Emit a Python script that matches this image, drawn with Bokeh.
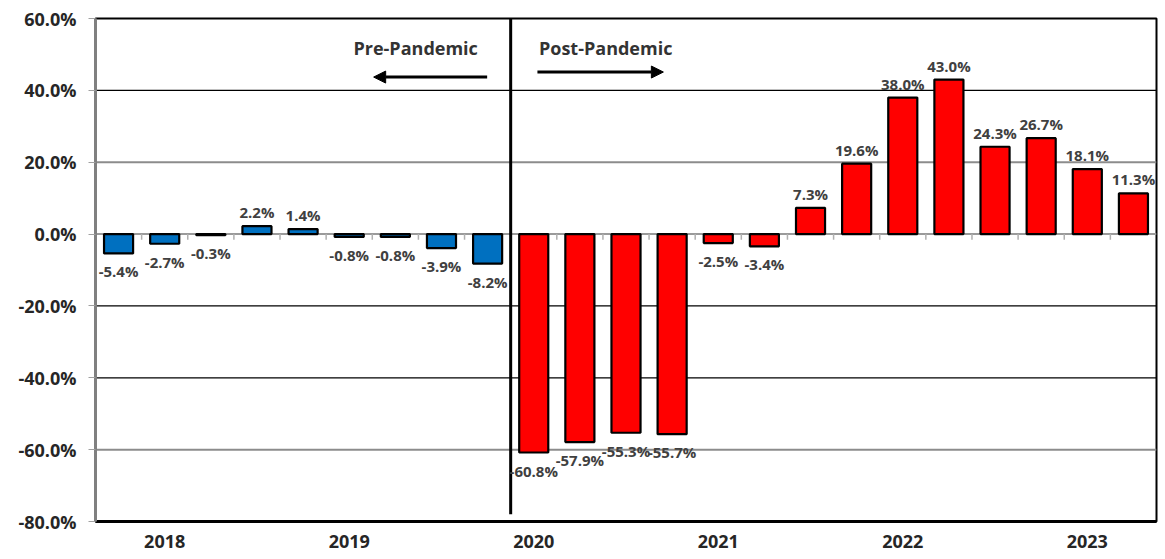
from bokeh.plotting import figure
from bokeh.models import (Range1d, FixedTicker, PrintfTickFormatter, Span, Arrow,
                          NormalHead, ColumnDataSource, Label)
from bokeh.embed import file_html
from bokeh.resources import INLINE
from bokeh.core.properties import value

# ---------------- data ----------------
years = ["2018", "2019", "2020", "2021", "2022", "2023"]
year_tick_index = [1, 5, 9, 13, 17, 21]
values = [-5.4, -2.7, -0.3, 2.2, 1.4, -0.8, -0.8, -3.9, -8.2,
          -60.8, -57.9, -55.3, -55.7, -2.5, -3.4, 7.3, 19.6, 38.0, 43.0,
          24.3, 26.7, 18.1, 11.3]
pandemic_start = 9          # index of the first post-pandemic bar
y_ticks = [-80, -60, -40, -20, 0, 20, 40, 60]
pre_color = "#0070C0"
post_color = "#FF0000"

FONT = "Open Sans"

x = list(range(len(values)))
colors = [pre_color if i < pandemic_start else post_color for i in x]
labels = [f"{v:.1f}%" for v in values]

pos = ColumnDataSource(dict(x=[i for i in x if values[i] >= 0],
                            y=[values[i] for i in x if values[i] >= 0],
                            t=[labels[i] for i in x if values[i] >= 0]))
neg = ColumnDataSource(dict(x=[i for i in x if values[i] < 0],
                            y=[values[i] for i in x if values[i] < 0],
                            t=[labels[i] for i in x if values[i] < 0]))
bars = ColumnDataSource(dict(x=x, top=values, color=colors))

p = figure(width=1158, height=559,
           x_range=Range1d(-0.5, len(values) - 0.5),
           y_range=Range1d(y_ticks[0], y_ticks[-1]),
           output_backend="svg", toolbar_location=None,
           min_border_left=95, min_border_right=2,
           min_border_top=18, min_border_bottom=38)
p.background_fill_color = "white"
p.border_fill_color = "white"
p.outline_line_color = "black"
p.outline_line_width = 2
p.xgrid.visible = False
p.ygrid.visible = False

# grid lines (mixed black / gray like the reference)
grid_style = {40: ("black", 1.3), 20: ("#8c8c8c", 2), 0: ("#9a9a9a", 2),
              -20: ("black", 1.3), -40: ("black", 1.3), -60: ("#8c8c8c", 2)}
for t in y_ticks[1:-1]:
    c, w = grid_style.get(t, ("#808080", 1))
    p.add_layout(Span(location=t, dimension="width", line_color=c,
                      line_width=w, level="underlay"))

# small category ticks on the zero line
bx = [i + 0.5 for i in x[:-1]]
p.segment(x0=bx, y0=[0] * len(bx), x1=bx, y1=[-1.6] * len(bx),
          line_color="#b0b0b0", line_width=1.5)

p.vbar(x="x", top="top", bottom=0, width=0.63, source=bars,
       fill_color="color", line_color="black", line_width=2.2)

# pandemic divider
p.segment(x0=[pandemic_start - 0.5], y0=[y_ticks[-1]],
          x1=[pandemic_start - 0.5], y1=[-78], line_color="black", line_width=3)

# data labels
p.text(x="x", y="y", text="t", source=pos, text_align="center",
       text_baseline="bottom", y_offset=-4, text_font=value(FONT),
       text_font_size="15px", text_font_style="bold", text_color="#404040")
p.text(x="x", y="y", text="t", source=neg, text_align="center",
       text_baseline="top", y_offset=8, text_font=value(FONT),
       text_font_size="15px", text_font_style="bold", text_color="#404040")

# annotations
p.add_layout(Label(x=6.44, y=51.8, text="Pre-Pandemic", text_align="center",
                   text_baseline="middle", text_font=FONT, text_font_size="18px",
                   text_font_style="bold", text_color="#333333"))
p.add_layout(Label(x=10.56, y=51.8, text="Post-Pandemic", text_align="center",
                   text_baseline="middle", text_font=FONT, text_font_size="18px",
                   text_font_style="bold", text_color="#333333"))
p.add_layout(Arrow(end=NormalHead(size=12, fill_color="black", line_color="black"),
                   x_start=7.99, y_start=43.7, x_end=5.53, y_end=43.7,
                   line_width=3, line_color="black"))
p.add_layout(Arrow(end=NormalHead(size=12, fill_color="black", line_color="black"),
                   x_start=9.08, y_start=45.1, x_end=11.81, y_end=45.1,
                   line_width=3, line_color="black"))

# axes
p.yaxis.ticker = FixedTicker(ticks=y_ticks)
p.yaxis.formatter = PrintfTickFormatter(format="%.1f%%")
p.yaxis.axis_line_color = "#808080"
p.yaxis.axis_line_width = 3
p.yaxis.major_tick_line_color = "#a0a0a0"
p.yaxis.major_tick_out = 7
p.yaxis.major_tick_in = 0
p.yaxis.minor_tick_line_color = None
p.yaxis.major_label_standoff = 12
p.yaxis.major_label_text_font = FONT
p.yaxis.major_label_text_font_size = "18px"
p.yaxis.major_label_text_font_style = "bold"
p.yaxis.major_label_text_color = "#262626"

p.xaxis.ticker = FixedTicker(ticks=year_tick_index)
p.xaxis.major_label_overrides = {i: y for i, y in zip(year_tick_index, years)}
p.xaxis.axis_line_color = "black"
p.xaxis.axis_line_width = 3
p.xaxis.major_tick_line_color = None
p.xaxis.minor_tick_line_color = None
p.xaxis.major_tick_out = 0
p.xaxis.major_tick_in = 0
p.xaxis.major_label_standoff = 13
p.xaxis.major_label_text_font = FONT
p.xaxis.major_label_text_font_size = "18px"
p.xaxis.major_label_text_font_style = "bold"
p.xaxis.major_label_text_color = "#262626"

open("out.html", "w").write(file_html(p, INLINE))
